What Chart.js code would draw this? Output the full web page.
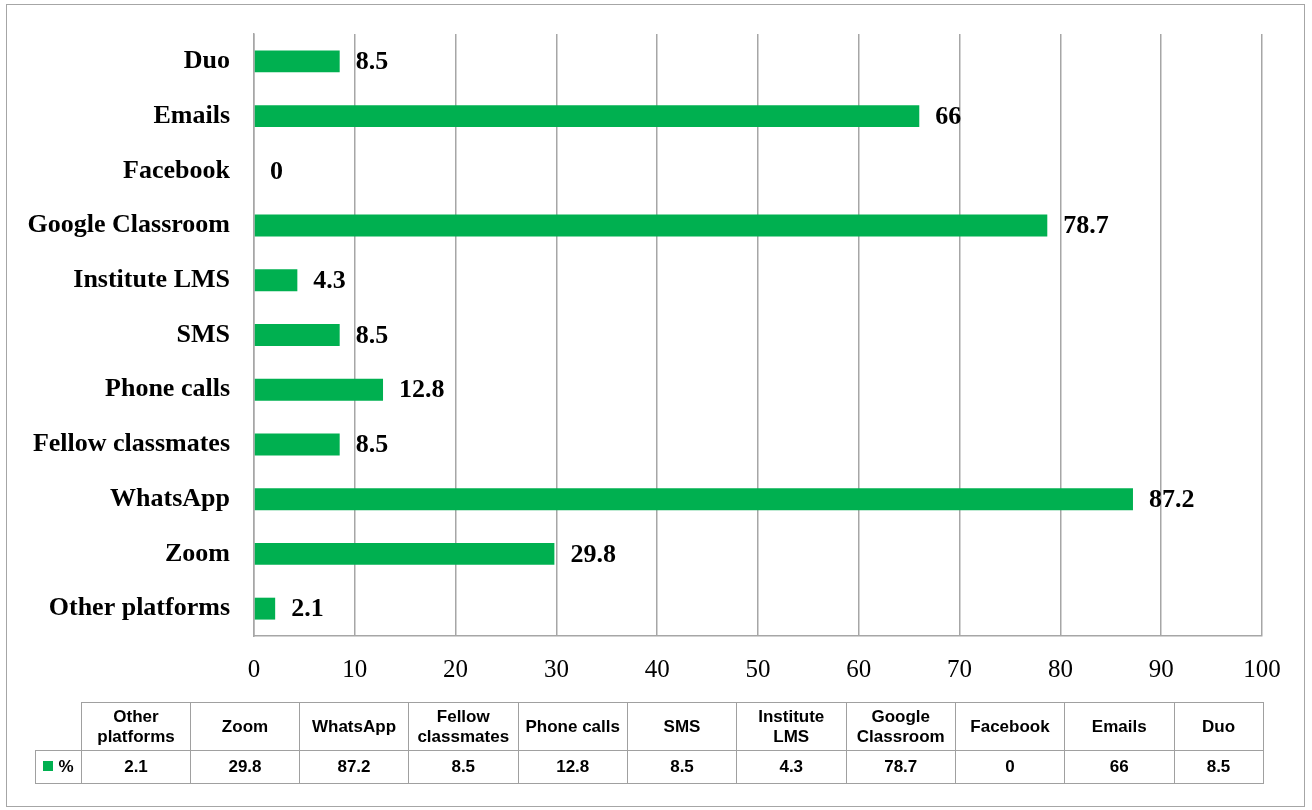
<!DOCTYPE html>
<html>
<head>
<meta charset="utf-8">
<script src="https://cdn.jsdelivr.net/npm/chart.js@4.4.1/dist/chart.umd.min.js"></script>
<style>
  html, body { margin: 0; padding: 0; background: #ffffff; }
  body { width: 1312px; height: 810px; position: relative; overflow: hidden; }
  #frame { position: absolute; left: 6px; top: 4px; width: 1299px; height: 803px; border: 1.5px solid #a6a6a6; box-sizing: border-box; }
  #c { position: absolute; left: 0; top: 0; }
  #tbl { position: absolute; left: 35px; top: 702px; border-collapse: collapse; table-layout: fixed;
         font-family: "Liberation Sans", Arial, sans-serif; font-weight: bold; font-size: 17px; color: #000; }
  #tbl td { border: 1.5px solid #a0a0a0; text-align: center; vertical-align: middle; padding: 0 3px; line-height: 20px; }
  #tbl tr.head td { height: 47px; }
  #tbl tr.vals td { height: 32px; }
  #tbl td.blank { border-top: none; border-left: none; }
  .key { display: inline-block; width: 10px; height: 10px; background: #00B050; margin-right: 5px; vertical-align: 1px; }
</style>
</head>
<body>
<div id="frame"></div>
<canvas id="c" width="1312" height="810"></canvas>
<table id="tbl"></table>
<script>
// Data (table order; bars drawn bottom-to-top in this order)
const categories = ["Other platforms", "Zoom", "WhatsApp", "Fellow classmates", "Phone calls", "SMS", "Institute LMS", "Google Classroom", "Facebook", "Emails", "Duo"];
const percentValues = [2.1, 29.8, 87.2, 8.5, 12.8, 8.5, 4.3, 78.7, 0, 66, 8.5];
const seriesName = "%";
const xTickMin = 0;
const xTickMax = 100;
const xTickStep = 10;

const GREEN = "#00B050";
const GRID = "#a6a6a6";

const valueLabels = {
  id: "valueLabels",
  afterDatasetsDraw(chart) {
    const ctx = chart.ctx;
    const meta = chart.getDatasetMeta(0);
    ctx.save();
    ctx.font = "bold 26px 'Liberation Serif', 'Times New Roman', serif";
    ctx.fillStyle = "#000";
    ctx.textAlign = "left";
    ctx.textBaseline = "middle";
    meta.data.forEach((bar, i) => {
      ctx.fillText(String(chart.data.datasets[0].data[i]), bar.x + 16, bar.y + 1);
    });
    ctx.restore();
  }
};

new Chart(document.getElementById("c"), {
  type: "bar",
  data: {
    labels: categories,
    datasets: [{
      label: seriesName,
      data: percentValues,
      backgroundColor: GREEN,
      borderWidth: 0,
      barPercentage: 0.4,
      categoryPercentage: 1.0
    }]
  },
  options: {
    indexAxis: "y",
    responsive: false,
    devicePixelRatio: 1,
    animation: false,
    layout: { padding: { top: 34, right: 50, bottom: 124, left: 0 } },
    plugins: { legend: { display: false }, tooltip: { enabled: false } },
    scales: {
      x: {
        min: xTickMin, max: xTickMax,
        ticks: { stepSize: xTickStep, color: "#000", padding: 19,
                 font: { family: "'Liberation Serif', 'Times New Roman', serif", size: 25 } },
        grid: { color: GRID, lineWidth: 1.5, drawTicks: false },
        border: { display: true, color: GRID, width: 1.5 },
        afterFit(scale) { scale.height = 50; }
      },
      y: {
        reverse: true,
        ticks: { color: "#000", padding: 0,
                 font: { family: "'Liberation Serif', 'Times New Roman', serif", size: 26, weight: "bold" } },
        grid: { display: false, drawTicks: true, tickLength: 24, tickColor: "rgba(0,0,0,0)" },
        border: { display: true, color: GRID, width: 1.5 },
        afterFit(scale) { scale.width = 254; }
      }
    }
  },
  plugins: [valueLabels]
});

// Data table under the chart
(function buildTable() {
  const widths = [46, 109, 109, 109, 109.5, 109.5, 109, 109.5, 109.5, 109, 109.5, 89];
  const tbl = document.getElementById("tbl");
  const cg = document.createElement("colgroup");
  widths.forEach(w => { const c = document.createElement("col"); c.style.width = w + "px"; cg.appendChild(c); });
  tbl.appendChild(cg);
  const head = document.createElement("tr"); head.className = "head";
  const blank = document.createElement("td"); blank.className = "blank"; head.appendChild(blank);
  categories.forEach(cat => { const td = document.createElement("td"); td.textContent = cat; head.appendChild(td); });
  tbl.appendChild(head);
  const row = document.createElement("tr"); row.className = "vals";
  const key = document.createElement("td");
  key.innerHTML = '<span class="key"></span>';
  key.appendChild(document.createTextNode(seriesName));
  row.appendChild(key);
  percentValues.forEach(v => { const td = document.createElement("td"); td.textContent = String(v); row.appendChild(td); });
  tbl.appendChild(row);
})();
</script>
</body>
</html>
